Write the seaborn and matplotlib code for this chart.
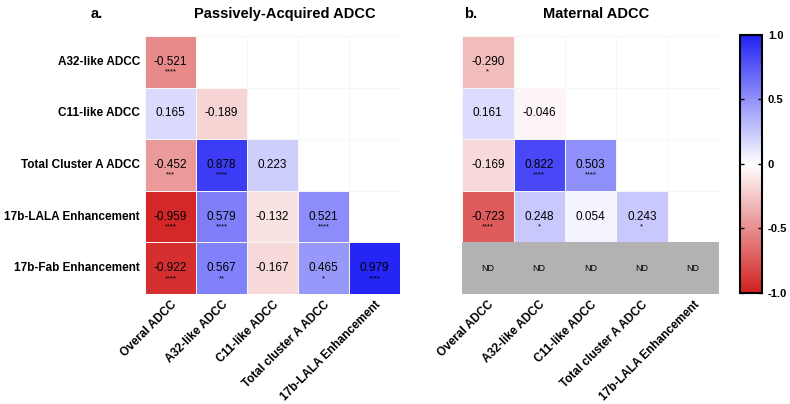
import numpy as np
import pandas as pd
import matplotlib
matplotlib.use("Agg")
import matplotlib.pyplot as plt
from matplotlib.colors import LinearSegmentedColormap, ListedColormap
import seaborn as sns

# row / column names
row_names = ["A32-like ADCC", "C11-like ADCC", "Total Cluster A ADCC",
             "17b-LALA Enhancement", "17b-Fab Enhancement"]
col_names = ["Overal ADCC", "A32-like ADCC", "C11-like ADCC",
             "Total cluster A ADCC", "17b-LALA Enhancement"]

# passively-acquired correlations (lower triangle, NaN = empty)
passive_r = [
    [-0.521, np.nan, np.nan, np.nan, np.nan],
    [0.165, -0.189, np.nan, np.nan, np.nan],
    [-0.452, 0.878, 0.223, np.nan, np.nan],
    [-0.959, 0.579, -0.132, 0.521, np.nan],
    [-0.922, 0.567, -0.167, 0.465, 0.979],
]
passive_sig = [
    ["****", "", "", "", ""],
    ["", "", "", "", ""],
    ["***", "****", "", "", ""],
    ["****", "****", "", "****", ""],
    ["****", "**", "", "*", "****"],
]

# maternal correlations, last row not determined
maternal_r = [
    [-0.290, np.nan, np.nan, np.nan, np.nan],
    [0.161, -0.046, np.nan, np.nan, np.nan],
    [-0.169, 0.822, 0.503, np.nan, np.nan],
    [-0.723, 0.248, 0.054, 0.243, np.nan],
    [np.nan, np.nan, np.nan, np.nan, np.nan],
]
maternal_sig = [
    ["*", "", "", "", ""],
    ["", "", "", "", ""],
    ["", "****", "****", "", ""],
    ["****", "*", "", "*", ""],
    ["", "", "", "", ""],
]
nd_row = 4

plt.rcParams["font.family"] = ["Liberation Sans", "DejaVu Sans"]

cmap = LinearSegmentedColormap.from_list("rwb", ["#d21f1f", "#ffffff", "#2222f5"])
grey = ListedColormap(["#b2b2b2"])

fig = plt.figure(figsize=(7.9, 4.04), dpi=100)
ax1 = fig.add_axes([0.1835, 0.272, 0.323, 0.639])
ax2 = fig.add_axes([0.585, 0.272, 0.325, 0.639])
cax = fig.add_axes([0.937, 0.275, 0.028, 0.639])


def style_ticks(ax, show_y):
    ax.tick_params(length=0)
    ax.set_xticklabels(col_names, rotation=45, ha="right", rotation_mode="anchor",
                       fontsize=8.5, fontweight="bold")
    if show_y:
        ax.set_yticklabels(row_names, rotation=0, fontsize=8.5, fontweight="bold")
    else:
        ax.set_yticklabels([])
    ax.set_xlabel("")
    ax.set_ylabel("")


def draw_panel(ax, vals, sig, show_y, cbar_ax=None):
    df = pd.DataFrame(vals, index=row_names, columns=col_names)
    sns.heatmap(df, ax=ax, cmap=cmap, vmin=-1, vmax=1, mask=df.isna(),
                linewidths=0.5, linecolor="#f6f6f6",
                cbar=cbar_ax is not None, cbar_ax=cbar_ax)
    for i in range(len(row_names)):
        for j in range(len(col_names)):
            v = df.iloc[i, j]
            if np.isnan(v):
                continue
            ax.text(j + 0.5, i + 0.5, f"{v:.3f}", ha="center", va="center",
                    fontsize=8.5, color="black")
            if sig[i][j]:
                ax.text(j + 0.5, i + 0.7, sig[i][j], ha="center", va="center",
                        fontsize=5.5, color="black")
    style_ticks(ax, show_y)
    return df


draw_panel(ax1, passive_r, passive_sig, True)
df2 = draw_panel(ax2, maternal_r, maternal_sig, False, cbar_ax=cax)

# ND row in grey
nd_mask = np.ones(df2.shape, dtype=bool)
nd_mask[nd_row, :] = False
sns.heatmap(pd.DataFrame(np.zeros(df2.shape), index=row_names, columns=col_names),
            ax=ax2, cmap=grey, mask=nd_mask, cbar=False, linewidths=0)
for j in range(len(col_names)):
    ax2.text(j + 0.5, nd_row + 0.5, "ND", ha="center", va="center", fontsize=6.5)
style_ticks(ax2, False)

# colorbar styling
cbar = ax2.collections[0].colorbar
cbar.set_ticks([-1, -0.5, 0, 0.5, 1])
cbar.set_ticklabels(["-1.0", "-0.5", "0", "0.5", "1.0"])
cbar.outline.set_visible(True)
cbar.outline.set_linewidth(1.5)
cbar.outline.set_edgecolor("black")
cax.tick_params(left=True, right=True, direction="in", length=3, width=1,
                labelsize=8, pad=4)
for t in cax.get_yticklabels():
    t.set_fontweight("bold")

# titles
fig.text(0.123, 0.965, "a.", fontsize=10.5, fontweight="bold", ha="center", va="center")
fig.text(0.361, 0.965, "Passively-Acquired ADCC", fontsize=10.5, fontweight="bold",
         ha="center", va="center")
fig.text(0.596, 0.965, "b.", fontsize=10.5, fontweight="bold", ha="center", va="center")
fig.text(0.755, 0.965, "Maternal ADCC", fontsize=10.5, fontweight="bold",
         ha="center", va="center")

fig.savefig("out.png", dpi=100)
